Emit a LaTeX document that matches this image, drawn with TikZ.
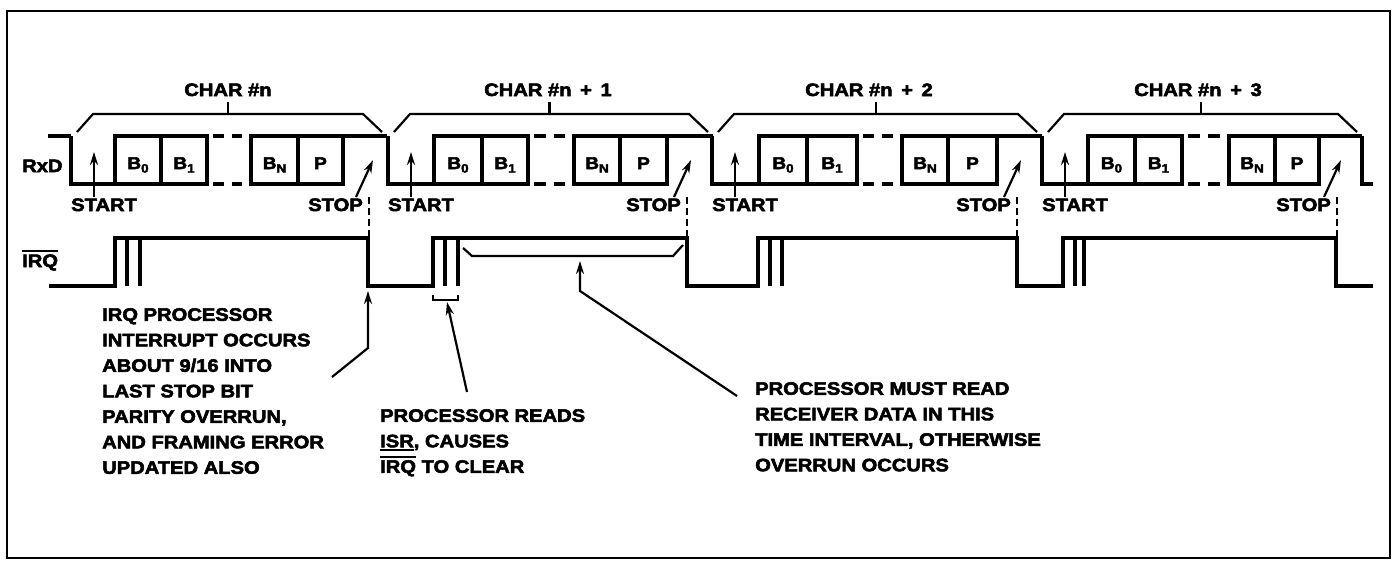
\documentclass[tikz,border=0pt]{standalone}
\usepackage{fontspec}
\setmainfont{Liberation Sans}[FakeStretch=1.12,BoldFeatures={FakeBold=3}]
\usetikzlibrary{arrows.meta}
\newcommand\mysub[1]{\raisebox{-3.5pt}{\fontsize{12}{12}\selectfont #1}}
\newcommand\myovl[1]{\leavevmode\vbox{\hrule height 1.8pt\kern 2.2pt\hbox{#1}}}
\newcommand\myunl[1]{\leavevmode\vtop{\hbox{#1}\kern 2pt\hrule height 1.8pt}}
\begin{document}
\begin{tikzpicture}[x=1pt,y=-1pt,
  wave/.style={line width=3.2pt},
  thinline/.style={line width=2.2pt},
  arr/.style={line width=2.2pt,-{Stealth[length=13pt,width=8pt]}},
  lbl/.style={font=\fontsize{18}{25.5}\selectfont\bfseries,inner sep=0pt},
  bit/.style={font=\fontsize{17}{17}\selectfont\bfseries,inner sep=0pt},
  dashv/.style={line width=2.2pt,dash pattern=on 7pt off 4pt}]
\useasboundingbox (0,0) rectangle (1399,562);
\draw[line width=2.4pt] (7,11) rectangle (1390,558);

% signal names
\node[lbl,anchor=base west] (rxd) at (22,172) {RxD};
\node[lbl,anchor=base west] (irq) at (22,267) {\myovl{IRQ}};

% RxD idle and end
\draw[wave] (48,136) -- (71,136);
\draw[wave] (1362,136) -- (1362,184) -- (1373,184);

\foreach \i/\f/\ba/\bb/\bc/\bn/\bp/\be/\nf/\ds/\ir/\im/\ie in {
 1/71/115/161/207/251/298/343/387/369/115/127/140,
 2/388/434/482/528/574/620/667/713/687/433/445/458,
 3/712/759/807/857/902/948/997/1042/1017/758/770/782,
 4/1042/1088/1135/1182/1229/1275/1319/1362/1337/1063/1075/1084}{
  % RxD waveform
  \draw[wave] (\f,136) -- (\f,184) -- (\ba,184);
  \draw[wave] (\ba,136) rectangle (\bc,184) (\bb,136) -- (\bb,184);
  \draw[wave] (\bn,136) rectangle (\be,184) (\bp,136) -- (\bp,184);
  \draw[wave] (\be,136) -- (\nf,136);
  \pgfmathsetmacro\dd{(\bn-\bc-23)/2}
  \draw[wave] ({\bc+6},136) -- ({\bc+6+\dd},136) ({\bn-9-\dd},136) -- ({\bn-9},136)
              ({\bc+6},184) -- ({\bc+6+\dd},184) ({\bn-9-\dd},184) -- ({\bn-9},184);
  % bit labels
  \node[bit,anchor=base] (bz\i) at ({(\ba+\bb)/2},169) {B\mysub{0}};
  \node[bit,anchor=base] (bo\i) at ({(\bb+\bc)/2},169) {B\mysub{1}};
  \node[bit,anchor=base] (bn\i) at ({(\bn+\bp)/2},169) {B\mysub{N}};
  \node[bit,anchor=base] (bp\i) at ({(\bp+\be)/2},169) {P};
  % start / stop
  \node[lbl,anchor=base west] (start\i) at (\f,211) {START};
  \node[lbl,anchor=base east] (stop\i) at ({\ds-6},211) {STOP};
  \coordinate (sab\i) at ({\f+23},197);
  \coordinate (sat\i) at ({\f+23},152);
  \draw[arr] (sab\i) -- (sat\i);
  \coordinate (spb\i) at ({\ds-13},197);
  \coordinate (spt\i) at ({\ds+4},160);
  \draw[arr] (spb\i) -- (spt\i);
  % dashed alignment
  \draw[dashv] (\ds,197) -- (\ds,238);
  % character bracket
  \draw[thinline] ({\f+6},132) -- ({\f+22},114) -- ({\nf-24},114) -- ({\nf-5},132);
  \draw[thinline] ({(\f+\nf-2)/2},114) -- ({(\f+\nf-2)/2},102);
  % IRQ pulse inner lines
  \draw[wave] (\im,238) -- (\im,286) (\ie,238) -- (\ie,286);
}

% character labels
\node[lbl,anchor=base] (c1) at (228,96) {CHAR \#n};
\node[lbl,anchor=base] (c2) at (548,96) {CHAR \#n\, + \,1};
\node[lbl,anchor=base] (c3) at (869,96) {CHAR \#n\, + \,2};
\node[lbl,anchor=base] (c4) at (1198,96) {CHAR \#n\, + \,3};

% IRQ waveform
\draw[wave] (49,286) -- (115,286) -- (115,238) -- (368,238) -- (368,286)
  -- (433,286) -- (433,238) -- (687,238) -- (687,286)
  -- (758,286) -- (758,238) -- (1017,238) -- (1017,286)
  -- (1063,286) -- (1063,238) -- (1336,238) -- (1336,286) -- (1373,286);

% interval brace and ISR bracket
\draw[thinline] (463,248) -- (472,256) -- (673,256) -- (683,245);
\draw[thinline] (433,295) -- (433,300) -- (458,300) -- (458,295);

% annotations
\node[lbl,anchor=north west,align=left] (note1) at (102,308)
  {IRQ PROCESSOR\\INTERRUPT OCCURS\\ABOUT 9/16 INTO\\LAST STOP BIT\\PARITY OVERRUN,\\AND FRAMING ERROR\\UPDATED ALSO};
\node[lbl,anchor=north west,align=left] (note2) at (380,409)
  {PROCESSOR READS\\\myunl{ISR}, CAUSES\\\myovl{IRQ} TO CLEAR};
\node[lbl,anchor=north west,align=left] (note3) at (755,382)
  {PROCESSOR MUST READ\\RECEIVER DATA IN THIS\\TIME INTERVAL, OTHERWISE\\OVERRUN OCCURS};

% annotation arrows
\coordinate (a1s) at (332,377);
\coordinate (a1k) at (368,348);
\coordinate (a1e) at (368,291);
\draw[arr] (a1s) -- (a1k) -- (a1e);
\coordinate (a2s) at (467,392);
\coordinate (a2e) at (447,302);
\draw[arr] (a2s) -- (a2e);
\coordinate (a3s) at (737,396);
\coordinate (a3k) at (580,291);
\coordinate (a3e) at (580,261);
\draw[arr] (a3s) -- (a3k) -- (a3e);
\end{tikzpicture}
\end{document}
